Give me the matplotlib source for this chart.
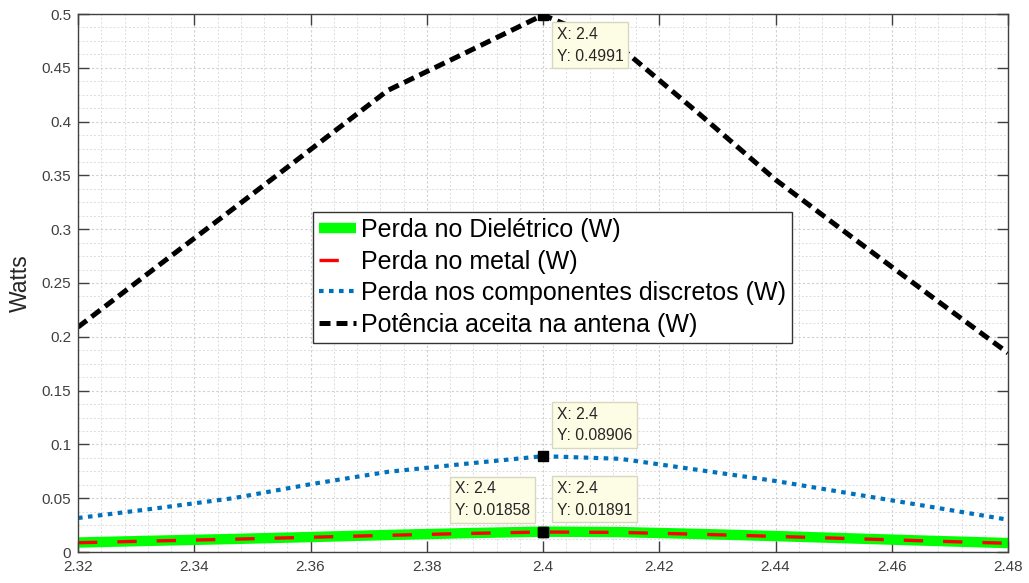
import matplotlib
matplotlib.use("Agg")
import matplotlib.pyplot as plt
from matplotlib.ticker import MultipleLocator
import numpy as np

plt.rcParams['font.family'] = ['Liberation Sans', 'DejaVu Sans']

# frequency points (GHz), step 0.04/3
freq = [2.32, 2.3333, 2.3467, 2.36, 2.3733, 2.3867, 2.4,
        2.4133, 2.4267, 2.44, 2.4533, 2.4667, 2.48]

perda_dieletrico = [0.0088, 0.0105, 0.0121, 0.0139, 0.0158, 0.0175, 0.01891,
                    0.0185, 0.0168, 0.0148, 0.0126, 0.0104, 0.0083]
perda_metal = [0.0086, 0.0103, 0.0119, 0.0137, 0.0155, 0.0172, 0.01858,
               0.0182, 0.0165, 0.0145, 0.0124, 0.0102, 0.0081]
perda_discretos = [0.0316, 0.0405, 0.0500, 0.0630, 0.0745, 0.0820, 0.08906,
                   0.0866, 0.0763, 0.0660, 0.0540, 0.0420, 0.0300]
potencia_aceita = [0.209, 0.264, 0.319, 0.374, 0.429, 0.464, 0.4991,
                   0.469, 0.408, 0.346, 0.292, 0.238, 0.185]

labels = ['Perda no Dielétrico (W)', 'Perda no metal (W)',
          'Perda nos componentes discretos (W)', 'Potência aceita na antena (W)']

# datatips: (series, index, text offset in pixels, vertical alignment)
tips = [(potencia_aceita, 6, (14, -12), 'top'),
        (perda_discretos, 6, (14, 13), 'bottom'),
        (perda_metal, 6, (-13, 14), 'bottom'),
        (perda_dieletrico, 6, (14, 14), 'bottom')]

fig = plt.figure(figsize=(10.29, 5.83), dpi=100)
ax = fig.add_axes([78 / 1029, 31 / 583, 930 / 1029, 538 / 583])

ax.plot(freq, perda_dieletrico, color='#00ff00', lw=7.5, solid_capstyle='butt', label=labels[0])
ax.plot(freq, perda_metal, color='#ff0000', lw=2.4, dashes=(5.8, 6.0), label=labels[1])
ax.plot(freq, perda_discretos, color='#0072bd', lw=3.0, dashes=(1.1, 1.3), label=labels[2])
ax.plot(freq, potencia_aceita, color='black', lw=3.6, dashes=(2.2, 1.2), label=labels[3])

for series, i, off, va in tips:
    x, y = freq[i], series[i]
    ax.plot([x], [y], 's', color='black', markersize=7, zorder=5)
    ax.annotate('X: %g\nY: %g' % (x, y), xy=(x, y), xytext=off, textcoords='offset pixels',
                ha='right' if off[0] < 0 else 'left', va=va, multialignment='left',
                fontsize=11.3, color='#262626', linespacing=1.55, zorder=6,
                bbox=dict(boxstyle='square,pad=0.3', fc='#fdfde6', ec='#d8d8c0', lw=1))

ax.set_xlim(2.32, 2.48)
ax.set_ylim(0, 0.5)
ax.xaxis.set_major_locator(MultipleLocator(0.02))
ax.xaxis.set_minor_locator(MultipleLocator(0.004))
ax.yaxis.set_major_locator(MultipleLocator(0.05))
ax.yaxis.set_minor_locator(MultipleLocator(0.0125))
ax.xaxis.set_major_formatter(plt.FuncFormatter(lambda v, p: '%g' % round(v, 2)))
ax.yaxis.set_major_formatter(plt.FuncFormatter(lambda v, p: '%g' % round(v, 2)))

ax.grid(which='major', linestyle=(0, (2, 2)), color='#cfcfcf', lw=0.8)
ax.grid(which='minor', linestyle=(0, (2, 2)), color='#dcdcdc', lw=0.7)
ax.set_axisbelow(True)
ax.tick_params(which='major', direction='in', length=8, width=1, top=True, right=True,
               color='#404040', labelcolor='#404040', labelsize=11)
ax.tick_params(axis='x', which='major', pad=6)
ax.tick_params(axis='y', which='major', pad=5)
ax.tick_params(which='minor', length=0)
for s in ax.spines.values():
    s.set_color('#404040')
    s.set_linewidth(1)

ax.set_ylabel('Watts', fontsize=16.5, color='#262626', labelpad=7)

leg = ax.legend(loc='upper left', bbox_to_anchor=(0.2527, 0.632), borderaxespad=0,
                fontsize=18, fancybox=False, edgecolor='#333333', framealpha=1,
                handlelength=1.45, handletextpad=0.2, labelspacing=0.3, borderpad=0.25)
leg.get_frame().set_linewidth(1)

fig.savefig('out.png', dpi=100)
